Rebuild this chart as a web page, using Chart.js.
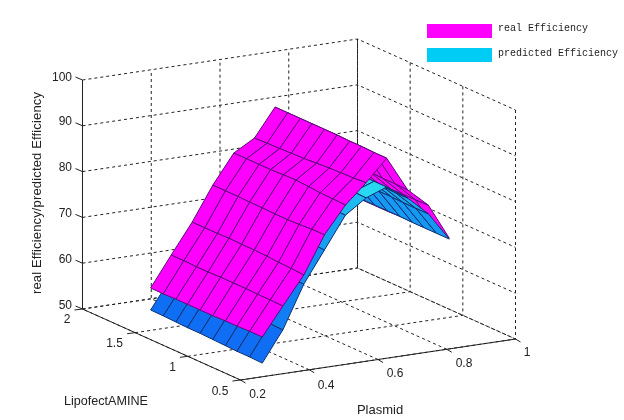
<!DOCTYPE html>
<html><head><meta charset="utf-8">
<style>html,body{margin:0;padding:0;background:#fff}#w{width:624px;height:420px}</style>
<script src="https://cdn.jsdelivr.net/npm/chart.js@4"></script></head>
<body><div id="w"><canvas id="c" width="624" height="420"></canvas></div>
<script>
const plasmid=[0.294,0.354,0.415,0.475,0.536,0.596,0.656,0.717,0.777,0.838];
const lipofect=[0.60,0.72,0.84,0.95,1.07,1.19,1.31,1.42,1.54,1.66];
const plasmidTicks=[0.2,0.4,0.6,0.8,1];
const lipofectTicks=[0.5,1,1.5,2];
const effTicks=[50,60,70,80,90,100];
const realEff=[
[57.3,57.3,57.2,57.2,57.1,57.1,57.1,57.1,57.0,57.05],
[63.4,63.5,63.5,63.6,63.6,63.6,63.5,63.5,63.6,63.6],
[69.5,69.7,69.8,70.0,70.1,70.1,70.2,70.1,70.1,70.1],
[77.6,77.6,77.4,77.3,77.3,77.4,77.4,77.5,77.5,77.5],
[83.4,83.5,83.6,83.8,84.0,83.9,83.8,83.8,83.8,83.8],
[87.6,87.4,87.3,87.2,87.0,86.8,86.7,86.6,86.5,86.4],
[92.3,92.3,92.4,92.4,92.5,92.5,92.5,92.5,92.5,92.5],
[84.7,84.8,84.8,84.9,84.9,85.0,85.0,85.1,85.1,85.1],
[80.7,80.6,80.6,80.5,80.5,80.5,80.4,80.4,80.3,80.3],
[72.8,72.8,72.7,72.7,72.7,72.6,72.6,72.6,72.5,72.5]];
const predEff=[
[51.6,51.7,51.7,51.8,51.9,52.0,52.0,52.1,52.2,52.25],
[58.2,58.3,58.3,58.4,58.4,58.5,58.5,58.6,58.6,58.7],
[67.5,67.5,67.6,67.6,67.7,67.7,67.7,67.8,67.8,67.8],
[74.3,74.4,74.4,74.5,74.5,74.5,74.6,74.6,74.6,74.7],
[81.2,81.2,81.3,81.3,81.3,81.4,81.4,81.4,81.4,81.5],
[84.3,84.4,84.4,84.4,84.5,84.5,84.5,84.5,84.6,84.6],
[86.0,86.0,86.0,86.1,86.1,86.1,86.1,86.2,86.2,86.2],
[82.9,82.9,83.0,83.0,83.0,83.0,83.1,83.1,83.1,83.1],
[78.8,78.8,78.8,78.9,78.9,78.9,78.9,79.0,79.0,79.0],
[72.6,72.6,72.6,72.6,72.7,72.7,72.7,72.7,72.7,72.8]];
const legendLabels=['real Efficiency','predicted Efficiency'];
const axisTitles={x:'Plasmid',y:'LipofectAMINE',z:'real Efficiency/predicted Efficiency'};
const ridgeRow=6;

/* orthographic projection of the 3-D box onto the hidden pixel-like scales */
const O={x:82.5,y:309},PV={x:275,y:-41},LV={x:158,y:71},ZV=229;
const nP=p=>(p-0.2)/0.8,nL=l=>(2-l)/1.5,nZ=z=>(z-50)/50;
function proj(p,l,z){const a=nP(p),b=nL(l),c=nZ(z);
 return {x:O.x+a*PV.x+b*LV.x,y:O.y+a*PV.y+b*LV.y-c*ZV};}
const depth=(p,l,z)=>-158*nP(p)+275*nL(l)+113.5*nZ(z);

const ramp=[[50,14,100,245],[75,20,150,242],[82,25,175,240],[86,44,225,240],[100,44,235,240]];
function predColor(z){
 for(let i=1;i<ramp.length;i++){if(z<=ramp[i][0]){
  const a=ramp[i-1],b=ramp[i],t=Math.max(0,(z-a[0])/(b[0]-a[0]));
  return `rgb(${[1,2,3].map(k=>Math.round(a[k]+t*(b[k]-a[k]))).join(',')})`;}}
 return 'rgb(44,235,240)';}

const quads=[];
function addSurface(tab,colorFn,edge,ranks){
 for(let i=0;i<plasmid.length-1;i++)for(let j=0;j<lipofect.length-1;j++){
  const c=[[i,j],[i+1,j],[i+1,j+1],[i,j+1]];
  const vals=c.map(([a,b])=>[plasmid[a],lipofect[b],tab[a][b]]);
  const m=vals.reduce((s,v)=>[s[0]+v[0]/4,s[1]+v[1]/4,s[2]+v[2]/4],[0,0,0]);
  const pts=vals.map(v=>proj(v[0],v[1],v[2]));pts.push(pts[0]);
  quads.push({pts,d:depth(m[0],m[1],m[2]),rank:i>=ridgeRow?ranks[0]:ranks[1],fill:colorFn(m[2]),edge});
 }}
/* draw order: far slope (seen from below) magenta, far slope blue, near slope blue, near slope magenta */
addSurface(realEff,()=>'#ff00ff','#5c0a78',[0,3]);
addSurface(predEff,predColor,'#0c3070',[1,2]);
quads.sort((a,b)=>a.rank-b.rank||a.d-b.d);

const line=(pts,opt)=>Object.assign({type:'scatter',data:pts,showLine:true,pointRadius:0,tension:0,fill:false,borderColor:'#222',borderWidth:1,order:100000},opt);
const datasets=[];
const dash={borderDash:[3,3],borderColor:'#222',borderWidth:1};
plasmidTicks.forEach(p=>{
 datasets.push(line([proj(p,0.5,50),proj(p,2,50),proj(p,2,100)],dash));});
lipofectTicks.forEach(l=>{
 datasets.push(line([proj(0.2,l,50),proj(1,l,50),proj(1,l,100)],dash));});
effTicks.forEach(z=>{
 datasets.push(line([proj(0.2,2,z),proj(1,2,z),proj(1,0.5,z)],dash));});
datasets.push(line([proj(0.2,2,100),proj(0.2,2,50),proj(0.2,0.5,50),proj(1,0.5,50)],{borderColor:'#222'}));
const tk=(f,dx,dy)=>{const a=f;return [a,{x:a.x+dx,y:a.y+dy}];};
effTicks.forEach(z=>datasets.push(line(tk(proj(0.2,2,z),-7,-3),{borderColor:'#222'})));
lipofectTicks.forEach(l=>datasets.push(line(tk(proj(0.2,l,50),-8,1),{borderColor:'#222'})));
plasmidTicks.forEach(p=>datasets.push(line(tk(proj(p,0.5,50),5,3),{borderColor:'#222'})));
quads.forEach((q,k)=>datasets.push(line(q.pts,{fill:'shape',backgroundColor:q.fill,borderColor:q.edge,borderWidth:1,order:quads.length-k})));

const labelPos={
 p:[[257.5,395],[326,386],[395,374],[464,364],[527,353]],
 l:[[220,392],[114.5,344],[172.5,368],[67,320]],
 z:[[72,306],[72,260],[72,214],[72,168],[72,122],[72,78]]};
labelPos.l=[[220,392],[172.5,368],[114.5,344],[67,320]];
const textPlugin={id:'text3d',afterDraw(ch){
 const g=ch.ctx;g.save();g.fillStyle='#222';g.font='12px "Liberation Sans"';g.textBaseline='middle';
 g.textAlign='center';
 plasmidTicks.forEach((t,i)=>g.fillText(String(t),...labelPos.p[i]));
 lipofectTicks.forEach((t,i)=>g.fillText(String(t),...labelPos.l[i]));
 g.textAlign='right';
 effTicks.forEach((t,i)=>g.fillText(String(t),...labelPos.z[i]));
 g.textAlign='center';
 g.font='12.6px "Liberation Sans"';
 g.fillText(axisTitles.y,106,402);
 g.font='13px "Liberation Sans"';
 g.fillText(axisTitles.x,380,410);
 g.save();g.translate(37,193);g.rotate(-Math.PI/2);g.letterSpacing='0.15px';g.fillText(axisTitles.z,0,0);g.restore();
 g.fillStyle='#ff00ff';g.fillRect(427,24,65,14);
 g.fillStyle='#00ccf5';g.fillRect(427,48,65,14);
 g.fillStyle='#222';g.font='10px "Liberation Mono"';g.textAlign='left';
 g.fillText(legendLabels[0],498,28);g.fillText(legendLabels[1],498,53);
 g.restore();}};

new Chart(document.getElementById('c'),{type:'scatter',data:{datasets},plugins:[textPlugin],options:{
 responsive:false,animation:false,events:[],layout:{padding:0},
 plugins:{legend:{display:false},tooltip:{enabled:false},title:{display:false}},
 scales:{x:{type:'linear',min:0,max:624,display:false},y:{type:'linear',min:0,max:420,reverse:true,display:false}}}});
</script></body></html>
